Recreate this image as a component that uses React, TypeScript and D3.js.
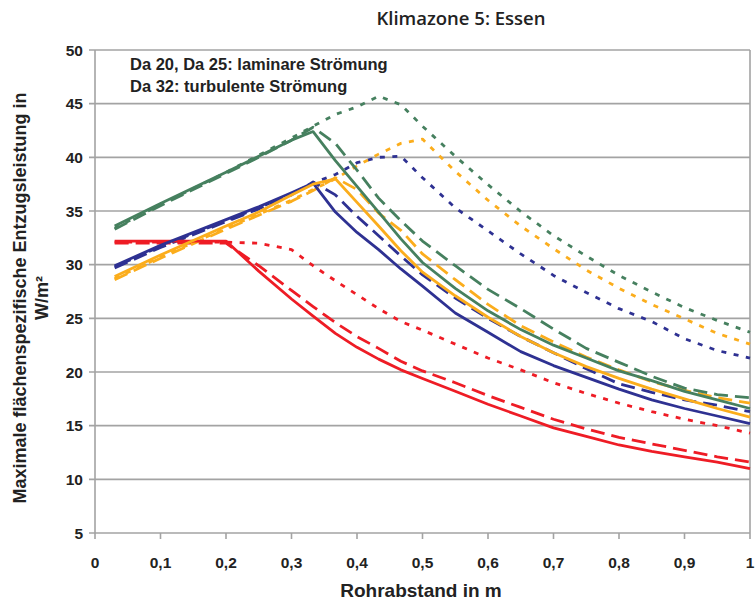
import React from "react";
import * as d3 from "d3";

const xValues = [0.03, 0.1, 0.2, 0.25, 0.3, 0.333, 0.367, 0.4, 0.433, 0.467, 0.5, 0.55, 0.6, 0.65, 0.7, 0.75, 0.8, 0.85, 0.9, 0.95, 1.0];

const redSolid = [32.2, 32.2, 32.2, 29.4, 26.8, 25.2, 23.6, 22.3, 21.2, 20.2, 19.4, 18.2, 17.0, 15.9, 14.8, 14.0, 13.2, 12.6, 12.1, 11.6, 11.0];
const redDashed = [32.0, 32.0, 32.0, 29.9, 27.6, 26.1, 24.6, 23.3, 22.2, 21.0, 20.1, 19.0, 17.8, 16.7, 15.6, 14.7, 13.9, 13.3, 12.7, 12.1, 11.6];
const redDotted = [32.1, 32.1, 32.1, 32.0, 31.4, 29.9, 28.5, 27.2, 25.9, 24.7, 23.9, 22.6, 21.3, 20.2, 19.0, 18.0, 17.1, 16.3, 15.6, 15.0, 14.3];

const blueSolid = [29.9, 31.8, 34.2, 35.4, 36.7, 37.6, 34.9, 33.0, 31.4, 29.6, 28.0, 25.5, 23.7, 21.9, 20.6, 19.5, 18.4, 17.4, 16.6, 15.9, 15.2];
const blueDashed = [29.7, 31.6, 34.0, 35.2, 36.5, 37.7, 36.5, 34.5, 32.7, 30.8, 29.05, 26.9, 25.0, 23.3, 21.8, 20.3, 18.9, 18.1, 17.4, 16.9, 16.3];
const blueDotted = [29.8, 31.7, 34.1, 35.3, 36.6, 37.6, 38.4, 39.5, 40.0, 40.1, 38.1, 35.3, 33.15, 31.0, 29.0, 27.4, 25.9, 24.7, 23.1, 22.0, 21.3];

const orangeSolid = [28.9, 30.9, 33.6, 34.9, 36.5, 37.5, 38.0, 35.8, 33.6, 31.3, 29.3, 27.1, 25.1, 23.3, 21.8, 20.5, 19.4, 18.4, 17.5, 16.6, 15.8];
const orangeDashed = [28.6, 30.6, 33.3, 34.6, 35.9, 36.9, 38.1, 37.0, 34.8, 33.2, 31.0, 28.6, 26.3, 24.3, 22.8, 21.4, 20.2, 19.1, 18.3, 17.6, 17.1];
const orangeDotted = [28.7, 30.7, 33.4, 34.7, 36.0, 37.0, 38.0, 39.2, 40.3, 41.3, 41.7, 38.7, 36.0, 33.6, 31.5, 29.5, 27.8, 26.3, 24.95, 23.6, 22.6];

const greenSolid = [33.6, 35.7, 38.6, 40.1, 41.6, 42.4, 39.7, 37.3, 34.9, 32.4, 30.2, 27.8, 25.7, 23.95, 22.5, 21.3, 20.1, 19.2, 18.2, 17.4, 16.6];
const greenDashed = [33.3, 35.5, 38.5, 40.0, 41.6, 42.8, 41.3, 38.8, 36.2, 34.1, 32.2, 29.9, 27.7, 25.9, 24.0, 22.2, 20.9, 19.6, 18.5, 17.9, 17.6];
const greenDotted = [33.4, 35.6, 38.6, 40.2, 41.8, 42.9, 44.0, 44.7, 45.7, 44.9, 42.9, 40.1, 37.45, 34.95, 32.7, 30.8, 29.0, 27.45, 26.0, 24.8, 23.7];

const xTicks = [0, 0.1, 0.2, 0.3, 0.4, 0.5, 0.6, 0.7, 0.8, 0.9, 1];
const yTicks = [5, 10, 15, 20, 25, 30, 35, 40, 45, 50];

const RED = "#ee1c25";
const BLUE = "#2e3192";
const ORANGE = "#fbad1c";
const GREEN = "#46805f";

const DASH = "14 7";
const DOT = "5 7.5";

const series = [
  { values: redDotted, color: RED, dash: DOT },
  { values: blueDotted, color: BLUE, dash: DOT },
  { values: orangeDotted, color: ORANGE, dash: DOT },
  { values: greenDotted, color: GREEN, dash: DOT },
  { values: redDashed, color: RED, dash: DASH },
  { values: blueDashed, color: BLUE, dash: DASH },
  { values: orangeDashed, color: ORANGE, dash: DASH },
  { values: greenDashed, color: GREEN, dash: DASH },
  { values: redSolid, color: RED, dash: null },
  { values: blueSolid, color: BLUE, dash: null },
  { values: orangeSolid, color: ORANGE, dash: null },
  { values: greenSolid, color: GREEN, dash: null },
];

export default function App() {
  const x = d3.scaleLinear().domain([0, 1]).range([95, 750]);
  const y = d3.scaleLinear().domain([5, 50]).range([533, 50]);
  const line = d3
    .line<number>()
    .x((_, i) => x(xValues[i]))
    .y((d) => y(d));
  const grid = "#a3a3a3";
  const font = "'Liberation Sans', Arial, sans-serif";
  return (
    <svg
      width={756}
      height={603}
      style={{ position: "absolute", left: 0, top: 0, background: "#fff" }}
    >
      <text x={461} y={25} textAnchor="middle" fontFamily="'Open Sans', sans-serif" fontWeight={600} fontSize={18.5} fill="#222">
        Klimazone 5: Essen
      </text>
      {yTicks.map((t) => (
        <g key={t}>
          <line x1={89} x2={750} y1={y(t)} y2={y(t)} stroke={grid} strokeWidth={1.6} />
          <text x={83} y={y(t) + 5.5} textAnchor="end" fontFamily={font} fontWeight="bold" fontSize={15.5} fill="#222">
            {t}
          </text>
        </g>
      ))}
      <line x1={x(0)} x2={x(0)} y1={y(50)} y2={y(5)} stroke={grid} strokeWidth={1.6} />
      <line x1={x(1)} x2={x(1)} y1={y(50)} y2={y(5)} stroke={grid} strokeWidth={1.6} />
      {xTicks.map((t) => (
        <g key={t}>
          <line x1={x(t)} x2={x(t)} y1={y(5)} y2={y(5) + 6} stroke={grid} strokeWidth={1.6} />
          <text x={x(t)} y={568} textAnchor="middle" fontFamily={font} fontWeight="bold" fontSize={15.5} fill="#222">
            {t === 0 || t === 1 ? String(t) : String(t).replace(".", ",")}
          </text>
        </g>
      ))}
      {series.map((s, i) => (
        <path
          key={i}
          d={line(s.values) || ""}
          fill="none"
          stroke={s.color}
          strokeWidth={2.8}
          strokeDasharray={s.dash || undefined}
          strokeLinejoin="round"
        />
      ))}
      <text x={130} y={70} fontFamily={font} fontWeight="bold" fontSize={16.5} fill="#222">
        Da 20, Da 25: laminare Strömung
      </text>
      <text x={130} y={92} fontFamily={font} fontWeight="bold" fontSize={16.5} fill="#222">
        Da 32: turbulente Strömung
      </text>
      <text x={421} y={597} textAnchor="middle" fontFamily={font} fontWeight="bold" fontSize={19} fill="#222">
        Rohrabstand in m
      </text>
      <g transform="translate(26,298) rotate(-90)">
        <text x={0} y={0} textAnchor="middle" fontFamily={font} fontWeight="bold" fontSize={18} fill="#222">
          Maximale flächenspezifische Entzugsleistung in
        </text>
        <text x={0} y={22} textAnchor="middle" fontFamily={font} fontWeight="bold" fontSize={18} fill="#222">
          W/m²
        </text>
      </g>
    </svg>
  );
}
